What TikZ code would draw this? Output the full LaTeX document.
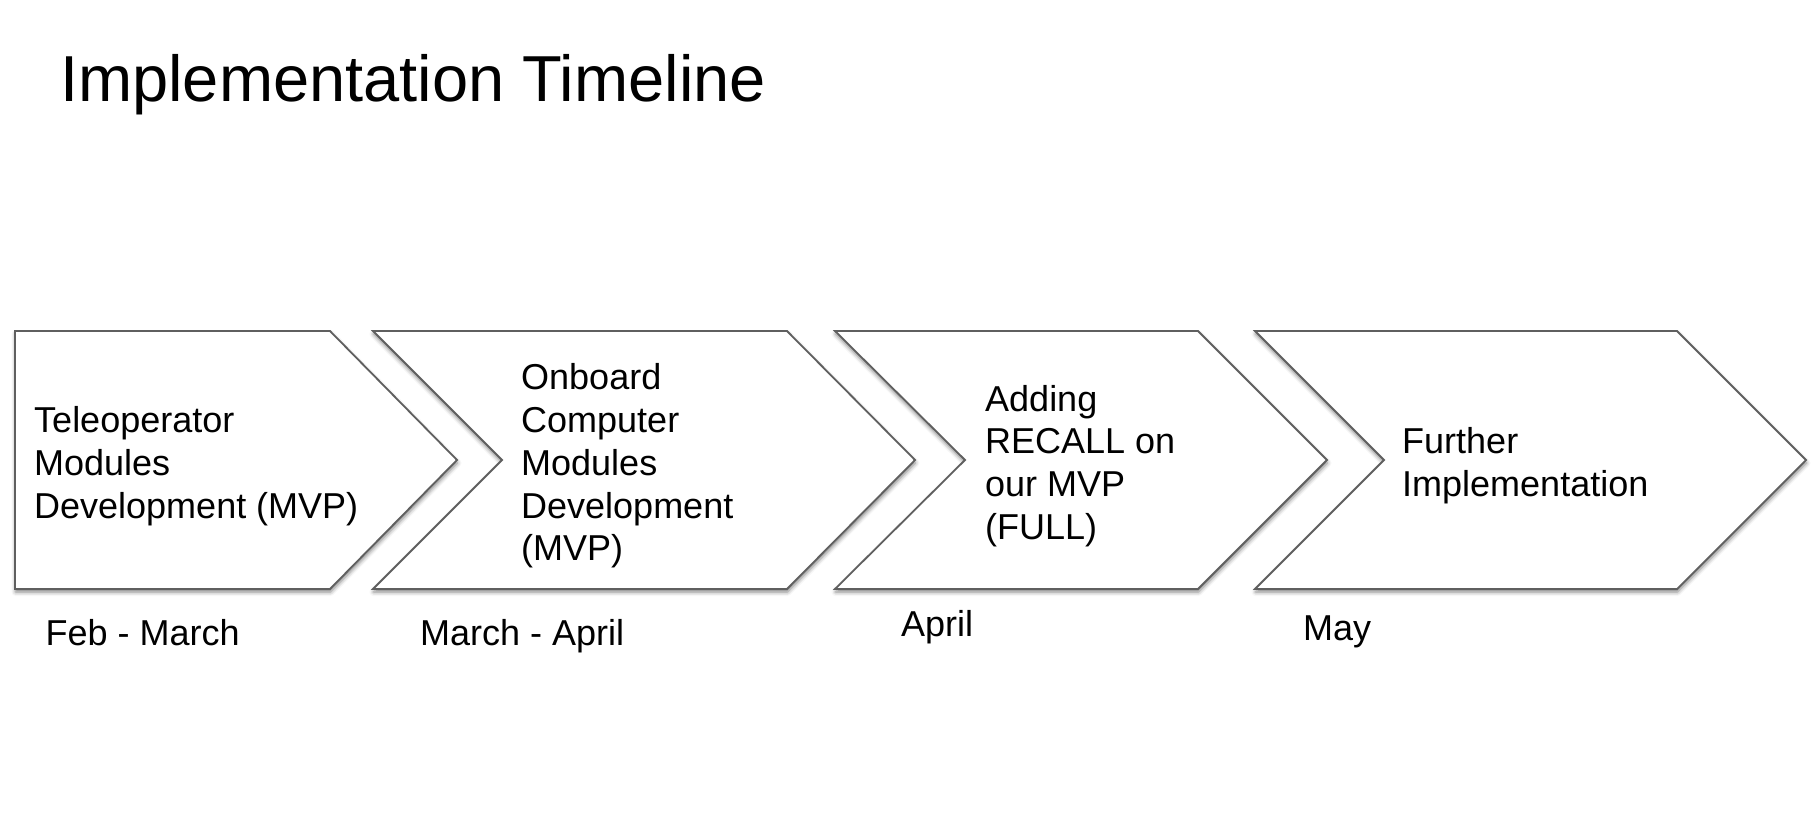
\documentclass[tikz,border=0pt]{standalone}
\usepackage{fontspec}
\setmainfont{Liberation Sans}
\usepackage{tikz}
\usetikzlibrary{shadows.blur}
\definecolor{edgegray}{RGB}{95,95,95}

\begin{document}
\begin{tikzpicture}[x=1pt,y=-1pt,
  chev/.style={draw=edgegray,line width=1.8pt,fill=white,line join=miter,
    blur shadow={shadow xshift=0.5pt,shadow yshift=-3pt,
      shadow blur radius=4pt,shadow opacity=50}},
  phase/.style={anchor=west,inner sep=0pt,align=left,
    font=\fontsize{36}{42.7}\selectfont},
  when/.style={anchor=base west,inner sep=0pt,
    font=\fontsize{36}{42.7}\selectfont}
]
  \useasboundingbox (0,0) rectangle (1812,826);
  \node[anchor=base west,inner sep=0pt,font=\fontsize{65}{78}\selectfont]
    (title) at (60,101.7) {Implementation Timeline};
  % chevrons
  \draw[chev] (15,331) -- (330,331) -- (457,460) -- (330,589) -- (15,589) -- cycle;
  \draw[chev] (373,331) -- (787,331) -- (915,460) -- (787,589) -- (373,589) -- (502,460) -- cycle;
  \draw[chev] (835,331) -- (1198,331) -- (1327,460) -- (1198,589) -- (835,589) -- (965,460) -- cycle;
  \draw[chev] (1255,331) -- (1677,331) -- (1806,460) -- (1677,589) -- (1255,589) -- (1384,460) -- cycle;
  % texts
  \node[phase] (tele) at (34,466)
    {Teleoperator\\Modules\\Development (MVP)};
  \node[phase] (onboard) at (521,466)
    {Onboard\\Computer\\Modules\\Development\\(MVP)};
  \node[phase] (recall) at (985,466)
    {Adding\\RECALL on\\our MVP\\(FULL)};
  \node[phase] (further) at (1402,466)
    {Further\\Implementation};
  % dates
  \node[when] (feb) at (45.5,645) {Feb - March};
  \node[when] (march) at (420,645) {March - April};
  \node[when] (april) at (901,636) {April};
  \node[when] (may) at (1303,640) {May};
\end{tikzpicture}
\end{document}
